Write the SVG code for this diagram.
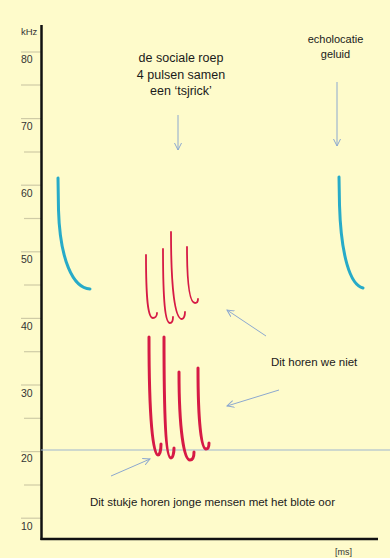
<svg xmlns="http://www.w3.org/2000/svg" width="390" height="558" viewBox="0 0 390 558">
<style>
.bg{fill:#FEFBCB}
.tick{stroke:#CFCBA6;stroke-width:1.2}
.lbl{font-family:"Liberation Sans",Arial,sans-serif;font-size:10.5px;fill:#333}
.txt{font-family:"Liberation Sans",Arial,sans-serif;fill:#1a1a1a}
.arrow{stroke:#8CA8CF;stroke-width:1;fill:none;marker-end:url(#ah)}
.cyan{stroke:#27ABC8;stroke-width:3;fill:none;stroke-linecap:round}
.red1{stroke:#D61A45;stroke-width:1.8;fill:none;stroke-linecap:round}
.red2{stroke:#D61A45;stroke-width:3;fill:none;stroke-linecap:round}
</style>
<defs>
<marker id="ah" markerWidth="8" markerHeight="8" refX="7" refY="4" orient="auto" markerUnits="userSpaceOnUse">
<path d="M0,0.5 L7,4 L0,7.5" fill="none" stroke="#8CA8CF" stroke-width="1"/>
</marker>
</defs>
<rect class="bg" x="0" y="0" width="390" height="558"/>
<g id="axis">
<line class="tick" x1="21" y1="52" x2="41" y2="52"/>
<line class="tick" x1="21" y1="85" x2="41" y2="85"/>
<line class="tick" x1="21" y1="118.6" x2="41" y2="118.6"/>
<line class="tick" x1="24" y1="152" x2="41" y2="152"/>
<line class="tick" x1="21" y1="185.2" x2="41" y2="185.2"/>
<line class="tick" x1="24" y1="218.5" x2="41" y2="218.5"/>
<line class="tick" x1="21" y1="251.8" x2="41" y2="251.8"/>
<line class="tick" x1="24" y1="285" x2="41" y2="285"/>
<line class="tick" x1="21" y1="318.4" x2="41" y2="318.4"/>
<line class="tick" x1="24" y1="351.7" x2="41" y2="351.7"/>
<line class="tick" x1="21" y1="385" x2="41" y2="385"/>
<line class="tick" x1="24" y1="418.3" x2="41" y2="418.3"/>
<line class="tick" x1="21" y1="451.6" x2="41" y2="451.6"/>
<line class="tick" x1="24" y1="485" x2="41" y2="485"/>
<line class="tick" x1="21" y1="518.2" x2="41" y2="518.2"/>
<text class="lbl" x="21" y="35" style="font-size:9.5px">kHz</text>
<text class="lbl" x="21" y="63">80</text>
<text class="lbl" x="21" y="130">70</text>
<text class="lbl" x="21" y="197">60</text>
<text class="lbl" x="21" y="263">50</text>
<text class="lbl" x="21" y="330">40</text>
<text class="lbl" x="21" y="397">30</text>
<text class="lbl" x="21" y="462">20</text>
<text class="lbl" x="21" y="530">10</text>
<line x1="41.5" y1="25" x2="41.5" y2="540" stroke="#111" stroke-width="2.5"/>
<line x1="40.5" y1="539" x2="378" y2="539" stroke="#111" stroke-width="2.5"/>
<text class="lbl" x="335" y="555" style="font-size:9px">[ms]</text>
<line x1="41" y1="450" x2="390" y2="450" stroke="#9DB6CF" stroke-width="1.2"/>
</g>
<g id="echo-left">
<path class="cyan" d="M58,178 L58.5,210 C60,260 73,288 90,289"/>
</g>
<g id="echo-right">
<path class="cyan" d="M339,177 L339.5,205 C341,255 350,285 363,288"/>
</g>
<g id="social-upper">
<path class="red1" d="M146,255 C146,300 148,318 153,318 C155,318 157,316 157,313"/>
<path class="red1" d="M163,249 C163,300 165,323 170,323 C172,323 173,320 173,317"/>
<path class="red1" d="M171,232 C171,290 175,319 182,319 C184,319 185,315 185,312"/>
<path class="red1" d="M187,247 C187,285 190,303 195,303 C197,303 198,301 198,299"/>
</g>
<g id="social-lower">
<path class="red2" d="M149,337 C149,420 153,455 158,455 C160,455 161,449 161,444"/>
<path class="red2" d="M164,337 C164,420 166,458 171,458 C173,458 174,452 174,448"/>
<path class="red2" d="M179,372 C179,430 184,460 190,460 C193,460 194,456 194,452"/>
<path class="red2" d="M198,368 C198,420 201,449 206,449 C208,449 209,446 209,443"/>
</g>
<g id="label-social">
<text class="txt" x="181" y="62" text-anchor="middle" style="font-size:12.5px">de sociale roep</text>
<text class="txt" x="181" y="78.5" text-anchor="middle" style="font-size:12.5px">4 pulsen samen</text>
<text class="txt" x="181" y="95" text-anchor="middle" style="font-size:12.5px">een ‘tsjrick’</text>
</g>
<g id="label-echo">
<text class="txt" x="335.5" y="43" text-anchor="middle" style="font-size:11px">echolocatie</text>
<text class="txt" x="335.5" y="58" text-anchor="middle" style="font-size:11px">geluid</text>
</g>
<g id="label-niet">
<text class="txt" x="271" y="366" style="font-size:11.5px">Dit horen we niet</text>
</g>
<g id="label-jonge">
<text class="txt" x="90" y="506" style="font-size:11.5px" textLength="245" lengthAdjust="spacingAndGlyphs">Dit stukje horen jonge mensen met het blote oor</text>
</g>
<g id="connectors">
<line class="arrow" x1="178" y1="115" x2="178" y2="150"/>
<line class="arrow" x1="337" y1="82" x2="337" y2="146"/>
<line class="arrow" x1="266" y1="336" x2="227" y2="310"/>
<line class="arrow" x1="279" y1="390" x2="227" y2="406"/>
<line class="arrow" x1="111" y1="476" x2="150" y2="459"/>
</g>
</svg>
